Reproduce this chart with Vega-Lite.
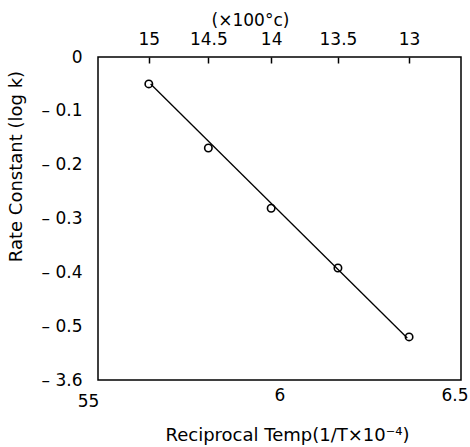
{
  "$schema": "https://vega.github.io/schema/vega-lite/v6.json",
  "width": 363,
  "height": 323,
  "autosize": "none",
  "padding": {"left": 98, "top": 57, "right": 9, "bottom": 67},
  "background": "white",
  "config": {
    "view": {"stroke": "black", "strokeWidth": 1.5},
    "axis": {
      "labelFont": "DejaVu Sans",
      "titleFont": "DejaVu Sans",
      "labelColor": "black",
      "titleColor": "black",
      "labelFontSize": 17,
      "titleFontSize": 17,
      "titleFontWeight": "normal",
      "grid": false,
      "domain": false
    }
  },
  "datasets": {
    "measured": [
      {"temp_c": 1500, "inv_temp": 5.640, "log_k": -0.050},
      {"temp_c": 1450, "inv_temp": 5.804, "log_k": -0.169},
      {"temp_c": 1400, "inv_temp": 5.977, "log_k": -0.281},
      {"temp_c": 1350, "inv_temp": 6.161, "log_k": -0.392},
      {"temp_c": 1300, "inv_temp": 6.357, "log_k": -0.520}
    ],
    "fit": [
      {"inv_temp": 5.645, "log_k": -0.050},
      {"inv_temp": 6.352, "log_k": -0.522}
    ]
  },
  "layer": [
    {
      "data": {"name": "fit"},
      "mark": {"type": "line", "color": "black", "strokeWidth": 1.3},
      "encoding": {
        "x": {
          "field": "inv_temp",
          "type": "quantitative",
          "scale": {"domain": [5.5, 6.5], "nice": false, "zero": false},
          "axis": {
            "orient": "bottom",
            "values": [5.5, 6, 6.5],
            "labelExpr": "datum.value == 5.5 ? '55' : datum.value == 6 ? '6' : '6.5'",
            "ticks": false,
            "labelPadding": {"condition": {"test": "datum.value == 5.5", "value": 13}, "value": 7},
            "labelOffset": {"condition": [
              {"test": "datum.value == 5.5", "value": -10},
              {"test": "datum.value == 6.5", "value": 7}
            ], "value": 0},
            "labelAlign": {"condition": {"test": "datum.value == 6.5", "value": "right"}, "value": "center"},
            "labelBaseline": "top",
            "labelFlush": false,
            "title": "Reciprocal Temp(1/T×10⁻⁴)",
            "titleFontSize": 18,
            "titleBaseline": "alphabetic",
            "titleX": 189,
            "titleY": 60
          }
        },
        "y": {
          "field": "log_k",
          "type": "quantitative",
          "scale": {"domain": [-0.6, 0], "nice": false, "zero": false},
          "axis": {
            "values": [0, -0.1, -0.2, -0.3, -0.4, -0.5, -0.6],
            "labelExpr": "datum.value == 0 ? '0' : datum.value == -0.1 ? '– 0.1' : datum.value == -0.2 ? '– 0.2' : datum.value == -0.3 ? '– 0.3' : datum.value == -0.4 ? '– 0.4' : datum.value == -0.5 ? '– 0.5' : '– 3.6'",
            "ticks": false,
            "labelPadding": 16,
            "title": "Rate Constant (log k)",
            "titleFontSize": 18,
            "titleBaseline": "middle",
            "titleX": -82,
            "titleY": 109
          }
        }
      }
    },
    {
      "data": {"name": "measured"},
      "mark": {"type": "point", "shape": "circle", "filled": false, "color": "black", "strokeWidth": 1.6, "size": 55, "opacity": 1},
      "encoding": {
        "x": {
          "field": "inv_temp",
          "type": "quantitative",
          "axis": {
            "orient": "top",
            "values": [5.640, 5.804, 5.977, 6.161, 6.357],
            "labelExpr": "datum.value < 5.7 ? '15' : datum.value < 5.9 ? '14.5' : datum.value < 6.1 ? '14' : datum.value < 6.2 ? '13.5' : '13'",
            "ticks": true,
            "tickColor": "black",
            "tickWidth": 1.5,
            "tickSize": -6,
            "labelPadding": 15,
            "title": "(×100°c)",
            "titleFontSize": 17,
            "titleBaseline": "alphabetic",
            "titleX": 152,
            "titleY": -32
          }
        },
        "y": {"field": "log_k", "type": "quantitative", "axis": null}
      }
    }
  ],
  "resolve": {"axis": {"x": "independent", "y": "independent"}}
}
